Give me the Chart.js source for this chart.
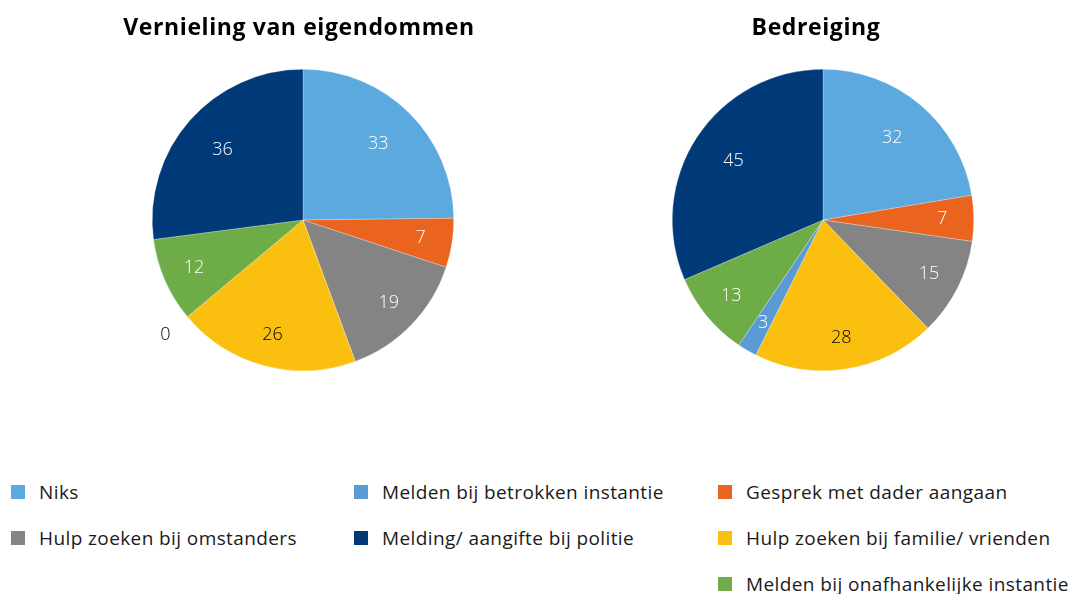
<!DOCTYPE html>
<html>
<head>
<meta charset="utf-8">
<script src="https://cdn.jsdelivr.net/npm/chart.js"></script>
<style>
  html, body { margin: 0; padding: 0; background: #fff; }
  body { width: 1072px; height: 594px; position: relative; overflow: hidden; font-family: "Open Sans", sans-serif; }
  canvas { position: absolute; }
  .lcol { position: absolute; top: 469px; }
  .item { display: flex; align-items: center; height: 46px; font-size: 19px; letter-spacing: 0.4px; color: #1a1a1a; white-space: nowrap; }
  .sw { width: 14px; height: 14px; margin-right: 14px; flex: none; }
</style>
</head>
<body>
<canvas id="c1" width="400" height="380" style="left:103px; top:0px;"></canvas>
<canvas id="c2" width="400" height="380" style="left:623px; top:0px;"></canvas>
<div class="lcol" id="lc0" style="left:11px;"></div>
<div class="lcol" id="lc1" style="left:354px;"></div>
<div class="lcol" id="lc2" style="left:718px;"></div>
<script>
const categories = [
  "Niks",
  "Gesprek met dader aangaan",
  "Hulp zoeken bij omstanders",
  "Hulp zoeken bij familie/ vrienden",
  "Melden bij betrokken instantie",
  "Melden bij onafhankelijke instantie",
  "Melding/ aangifte bij politie"
];
const vernielingValues = [33, 7, 19, 26, 0, 12, 36];
const bedreigingValues = [32, 7, 15, 28, 3, 13, 45];
const chartTitles = ["Vernieling van eigendommen", "Bedreiging"];
const legendColumns = [
  ["Niks", "Hulp zoeken bij omstanders"],
  ["Melden bij betrokken instantie", "Melding/ aangifte bij politie"],
  ["Gesprek met dader aangaan", "Hulp zoeken bij familie/ vrienden", "Melden bij onafhankelijke instantie"]
];
const colors = ["#5BA9DF", "#EB641F", "#848484", "#FBC00F", "#5B9BD5", "#6EAC47", "#003A78"];
const labelColors = ["#ffffff", "#ffffff", "#ffffff", "#000000", "#ffffff", "#ffffff", "#ffffff"];

const sliceLabels = {
  id: 'sliceLabels',
  afterDatasetsDraw(chart) {
    const ctx = chart.ctx;
    const meta = chart.getDatasetMeta(0);
    const data = chart.data.datasets[0].data;
    const total = data.reduce((a, b) => a + b, 0);
    ctx.save();
    ctx.font = '300 18px "Open Sans", sans-serif';
    ctx.textAlign = 'center';
    ctx.textBaseline = 'middle';
    meta.data.forEach((arc, i) => {
      const v = data[i];
      const p = arc.getProps(['x', 'y', 'startAngle', 'endAngle', 'outerRadius'], true);
      const mid = (p.startAngle + p.endAngle) / 2;
      let r, col;
      if (v === 0) { r = p.outerRadius * 1.19; col = '#000000'; }
      else { r = p.outerRadius * (v / total > 0.2 ? 0.71 : 0.79); col = labelColors[i]; }
      ctx.fillStyle = col;
      ctx.fillText(String(v), p.x + Math.cos(mid) * r, p.y + Math.sin(mid) * r);
    });
    ctx.restore();
  }
};

// Shift / space the title slightly (title box is drawn before the datasets)
function titleStyle(dx) {
  return {
    id: 'titleStyle',
    beforeDraw(chart) {
      chart.ctx.save();
      chart.ctx.translate(dx, 0);
      chart.ctx.letterSpacing = '0.6px';
    },
    beforeDatasetsDraw(chart) {
      chart.ctx.restore();
    }
  };
}

function makePie(id, title, values, dx) {
  return new Chart(document.getElementById(id), {
    type: 'pie',
    data: {
      labels: categories,
      datasets: [{ data: values, backgroundColor: colors, borderColor: 'rgba(255,255,255,0.5)', borderWidth: 0.5 }]
    },
    options: {
      responsive: false,
      animation: false,
      layout: { padding: { top: 0, bottom: 9, left: 0, right: 0 } },
      plugins: {
        legend: { display: false },
        tooltip: { enabled: false },
        title: {
          display: true,
          text: title,
          color: '#000000',
          font: { family: '"Open Sans", sans-serif', size: 23, weight: 'bold', lineHeight: 1.2 },
          padding: { top: 14.7, bottom: 26.7 }
        }
      }
    },
    plugins: [titleStyle(dx), sliceLabels]
  });
}
makePie('c1', chartTitles[0], vernielingValues, -4);
makePie('c2', chartTitles[1], bedreigingValues, -7);

legendColumns.forEach((col, c) => {
  const box = document.getElementById('lc' + c);
  col.forEach(name => {
    const i = categories.indexOf(name);
    const d = document.createElement('div');
    d.className = 'item';
    const s = document.createElement('span');
    s.className = 'sw';
    s.style.background = colors[i];
    d.appendChild(s);
    d.appendChild(document.createTextNode(name));
    box.appendChild(d);
  });
});
</script>
</body>
</html>
